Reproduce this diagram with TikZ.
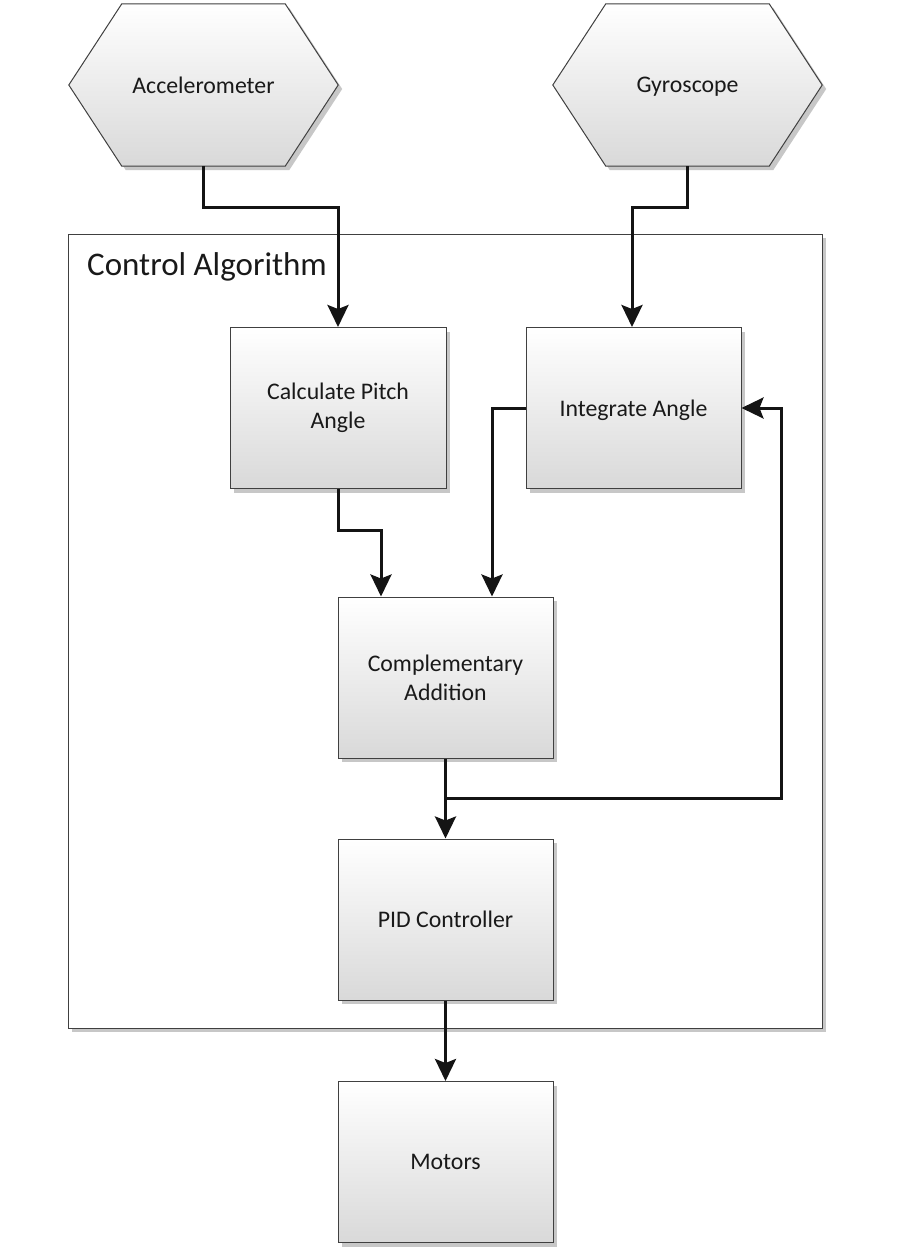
\documentclass[tikz,border=0pt]{standalone}
\usepackage{fontspec}
\setmainfont{Carlito}
\usetikzlibrary{arrows.meta,shadows,calc}
\begin{document}
\begin{tikzpicture}[x=1pt,y=-1pt,
  shadowed/.style={drop shadow={shadow xshift=4pt,shadow yshift=-4pt,fill=black!22,opacity=1}},
  blockbox/.style={draw=black!75,line width=1pt,top color=white,bottom color=black!15,
    minimum width=215pt,minimum height=161pt,inner sep=0pt,align=center,
    font=\fontsize{23.8}{29}\selectfont,text=black!90,shadowed},
  oneline/.style={text depth=0pt},
  hexbox/.style={minimum width=269pt,minimum height=162pt,inner sep=0pt,
    font=\fontsize{23.8}{29}\selectfont,text=black!90,oneline},
  hexline/.style={draw=black!75,line width=1pt,top color=white,bottom color=black!15},
  conn/.style={line width=3pt,draw=black!92},
  arr/.style={conn,-{Stealth[length=22pt,width=21pt,inset=4pt]}}]
\useasboundingbox[fill=white] (0,0) rectangle (900,1260);
% container
\node[draw=black!75,line width=1pt,fill=white,minimum width=754pt,minimum height=794pt,
  inner sep=0pt,shadowed] (ctrl) at (445,631) {};
\node[anchor=west,font=\fontsize{33}{38}\selectfont,inner sep=0pt,text=black!90] (ttl) at (87,267) {Control Algorithm};
% hexagons
\node[hexbox] (acc) at (203.5,85) {};
\node[hexbox] (gyr) at (687.5,85) {};
\foreach \h in {acc,gyr}{
  \fill[black!22] ($(\h.west)+(4,4)$) -- ($(\h.north west)+(57,4)$) -- ($(\h.north east)+(-49,4)$)
    -- ($(\h.east)+(4,4)$) -- ($(\h.south east)+(-49,4)$) -- ($(\h.south west)+(57,4)$) -- cycle;
  \path[hexline] (\h.west) -- ($(\h.north west)+(53,0)$) -- ($(\h.north east)+(-53,0)$)
    -- (\h.east) -- ($(\h.south east)+(-53,0)$) -- ($(\h.south west)+(53,0)$) -- cycle;
}
\node[hexbox] at (acc) {Accelerometer};
\node[hexbox] at (gyr) {Gyroscope};
% blocks
\node[blockbox,minimum width=216pt] (calc) at (338,408) {Calculate Pitch\\Angle};
\node[blockbox,oneline] (integ) at (633.5,408) {Integrate Angle};
\node[blockbox] (comp) at (445.5,677.5) {Complementary\\Addition};
\node[blockbox,oneline] (pid) at (445.5,919.5) {PID Controller};
\node[blockbox,oneline] (mot) at (445.5,1162) {Motors};
% connectors
\draw[arr] (acc.south) -- ++(0,41) -| (calc.north);
\draw[arr] (gyr.south) -- ++(0,41) -| ([xshift=-1.5pt]integ.north);
\draw[arr] (calc.south) -- ++(0,41) -| ([xshift=-64.5pt]comp.north);
\draw[arr] (integ.west) -| ([xshift=46.5pt]comp.north);
\draw[arr] (comp.south) -- (pid.north);
\draw[arr] ($(comp.south)+(0,40)$) -| ($(integ.east)+(40,0)$) -- (integ.east);
\draw[arr] (pid.south) -- (mot.north);
\end{tikzpicture}
\end{document}
